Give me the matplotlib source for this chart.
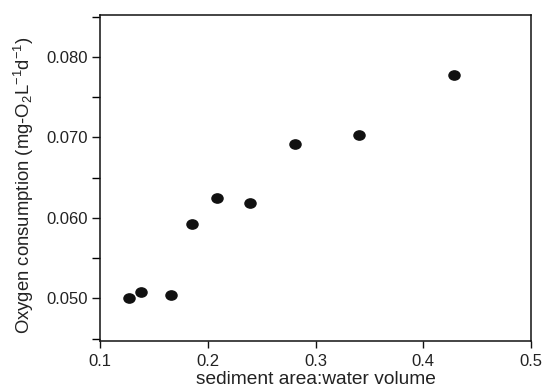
import numpy as np
import matplotlib
matplotlib.use("Agg")
import matplotlib.pyplot as plt
from matplotlib.path import Path
from matplotlib.ticker import MultipleLocator, FormatStrFormatter

plt.rcParams['font.family'] = ['Liberation Sans', 'DejaVu Sans']
plt.rcParams['mathtext.fontset'] = 'custom'
plt.rcParams['mathtext.rm'] = 'Liberation Sans'
plt.rcParams['mathtext.it'] = 'Liberation Sans'

# sediment area : water volume ratio and measured oxygen consumption
ratio = [0.127, 0.138, 0.166, 0.185, 0.209, 0.239, 0.281, 0.340, 0.429]
oxygen = [0.0501, 0.0508, 0.0504, 0.0592, 0.0625, 0.0618, 0.0692, 0.0703, 0.0777]

x_ticks = [0.1, 0.2, 0.3, 0.4, 0.5]
y_ticks = [0.050, 0.060, 0.070, 0.080]

# slightly flattened dot marker
circle = Path.unit_circle()
ellipse = Path(circle.vertices * np.array([1.2, 1.0]), circle.codes)

fig = plt.figure(figsize=(5.44, 3.87), dpi=100)
ax = fig.add_axes([100 / 544, 1 - 341 / 387, 431 / 544, 326 / 387])

ax.plot(ratio, oxygen, linestyle='none', marker=ellipse, markersize=8,
        color='#111111')

ax.set_xlim(0.1, 0.5)
ax.set_ylim(0.0447, 0.0852)
ax.set_xticks(x_ticks)
ax.set_xticklabels([f"{v:g}" for v in x_ticks])
ax.set_yticks(y_ticks)
ax.yaxis.set_major_formatter(FormatStrFormatter('%.3f'))
ax.yaxis.set_minor_locator(MultipleLocator(0.005))

for s in ax.spines.values():
    s.set_linewidth(1.1)
    s.set_color('#111111')

ax.tick_params(axis='both', direction='out', labelsize=12, width=1.0,
               color='#111111', labelcolor='#222222')
ax.tick_params(axis='y', which='both', length=6, pad=3)
ax.tick_params(axis='y', which='minor', width=1.0)
ax.tick_params(axis='x', length=5, pad=4)

ax.set_xlabel('sediment area:water volume', fontsize=13.8, color='#222222',
              labelpad=2)
ax.set_ylabel('Oxygen consumption (mg-O$_2$L$^{-1}$d$^{-1}$)', fontsize=13.3,
              color='#222222')
ax.yaxis.set_label_coords(-0.148, 0.479)

fig.savefig('out.png', dpi=100)
